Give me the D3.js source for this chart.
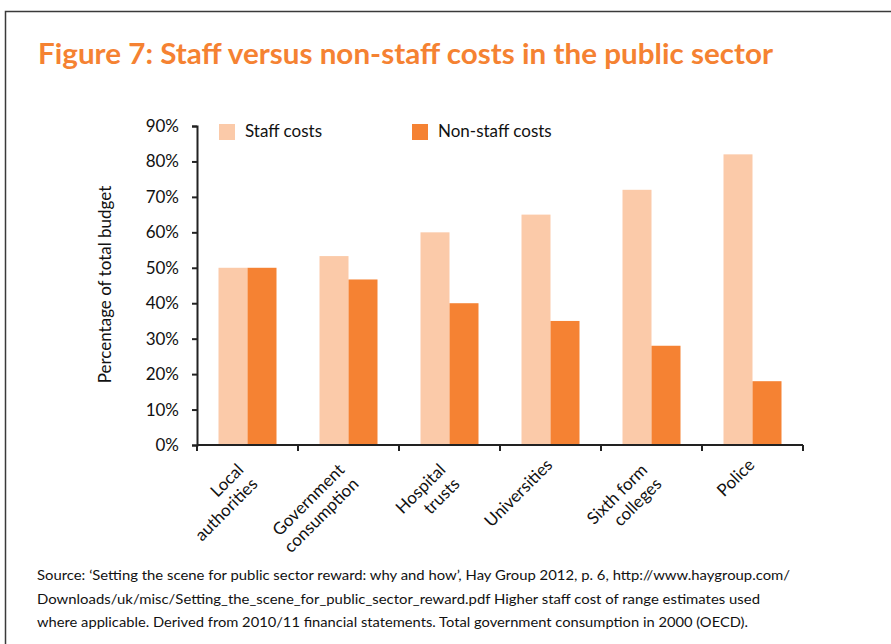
<!DOCTYPE html>
<html>
<head>
<meta charset="utf-8">
<script src="https://cdn.jsdelivr.net/npm/d3@7"></script>
<style>
  body { margin: 0; background: #fff; }
  svg { display: block; font-family: Lato, "Open Sans", sans-serif; }
</style>
</head>
<body>
<svg id="chart" width="891" height="644"></svg>
<script>
// data
const categories = [
  ["Local", "authorities"],
  ["Government", "consumption"],
  ["Hospital", "trusts"],
  ["Universities"],
  ["Sixth form", "colleges"],
  ["Police"]
];
const staffCosts = [0.50, 0.533, 0.60, 0.65, 0.72, 0.82];
const nonStaffCosts = [0.50, 0.467, 0.40, 0.35, 0.28, 0.18];
const seriesNames = ["Staff costs", "Non-staff costs"];
const yTicks = [0, 0.1, 0.2, 0.3, 0.4, 0.5, 0.6, 0.7, 0.8, 0.9];
const sourceLines = [
  "Source: \u2018Setting the scene for public sector reward: why and how\u2019, Hay Group 2012, p. 6, http://www.haygroup.com/",
  "Downloads/uk/misc/Setting_the_scene_for_public_sector_reward.pdf Higher staff cost of range estimates used",
  "where applicable. Derived from 2010/11 financial statements. Total government consumption in 2000 (OECD)."
];

const colors = ["#fbcaa9", "#f58233"];
const fs = 17;
const svg = d3.select("#chart");

// frame
svg.append("path")
  .attr("d", "M5.5,644 V11.5 H891")
  .attr("fill", "none").attr("stroke", "#3a3a3a").attr("stroke-width", 1.5);

// title
svg.append("text")
  .attr("x", 38).attr("y", 64)
  .attr("fill", "#f58232")
  .attr("font-size", 28).attr("font-weight", 700)
  .attr("textLength", 735).attr("lengthAdjust", "spacingAndGlyphs")
  .text("Figure 7: Staff versus non-staff costs in the public sector");

const x0 = 197, x1 = 803, yTop = 126, yBot = 445;
const keys = categories.map(c => c.join(" "));

const x = d3.scaleBand().domain(keys).range([x0, x1]);
const xs = d3.scaleBand().domain([0, 1]).range([21.5, x.bandwidth() - 21.5]);
const y = d3.scaleLinear().domain([0, 0.9]).range([yBot, yTop]);

const rows = keys.map((k, i) => ({ key: k, vals: [staffCosts[i], nonStaffCosts[i]] }));

// bars
const g = svg.append("g");
g.selectAll("g.cat").data(rows).join("g")
  .attr("transform", d => `translate(${x(d.key)},0)`)
  .selectAll("rect").data(d => d.vals.map((v, j) => ({ v, j }))).join("rect")
  .attr("x", d => xs(d.j))
  .attr("width", xs.bandwidth())
  .attr("y", d => y(d.v))
  .attr("height", d => y(0) - y(d.v))
  .attr("fill", d => colors[d.j]);

// y axis
const yAxis = svg.append("g")
  .attr("transform", `translate(${x0},0)`)
  .call(d3.axisLeft(y).tickValues(yTicks).tickFormat(d3.format(".0%")).tickSize(5).tickPadding(13));
yAxis.selectAll("text").attr("font-size", fs).attr("fill", "#111").attr("font-family", "Lato, sans-serif");
yAxis.select(".domain").attr("stroke", "#222").attr("stroke-width", 2);
yAxis.selectAll(".tick line").attr("stroke", "#222").attr("stroke-width", 2);

// x axis
const xAxis = svg.append("g")
  .attr("transform", `translate(0,${yBot})`);
xAxis.append("line")
  .attr("x1", x0).attr("x2", x1)
  .attr("stroke", "#222").attr("stroke-width", 2);
xAxis.selectAll("line.tick")
  .data(keys.map(k => x(k)).concat([x1])).join("line")
  .attr("class", "tick")
  .attr("x1", d => d).attr("x2", d => d)
  .attr("y1", 0).attr("y2", 6)
  .attr("stroke", "#222").attr("stroke-width", 2);

// category labels, rotated, lines right-aligned
const lineH = 20;
categories.forEach((lines, i) => {
  const one = lines.length === 1;
  const cx = x(keys[i]) + x.bandwidth() / 2 + (one ? 3 : -3);
  const lg = svg.append("g")
    .attr("transform", `translate(${cx},${yBot + (one ? 21 : 26)}) rotate(-45)`);
  lines.forEach((t, li) => lg.append("text")
    .attr("font-size", fs).attr("fill", "#111")
    .attr("text-anchor", "end")
    .attr("y", li * lineH)
    .text(t));
});

// y axis title
svg.append("text")
  .attr("transform", `translate(111,${(yTop + yBot) / 2 - 1}) rotate(-90)`)
  .attr("text-anchor", "middle")
  .attr("font-size", fs).attr("fill", "#111")
  .text("Percentage of total budget");

// legend
const legendX = [219, 412];
seriesNames.forEach((name, i) => {
  svg.append("rect")
    .attr("x", legendX[i]).attr("y", 124)
    .attr("width", 16).attr("height", 16)
    .attr("fill", colors[i]);
  svg.append("text")
    .attr("x", legendX[i] + 26).attr("y", 137)
    .attr("font-size", fs).attr("fill", "#111")
    .text(name);
});

// source note
const srcWidths = [753, 723, 711];
sourceLines.forEach((t, i) => {
  svg.append("text")
    .attr("x", 37).attr("y", 580 + i * 23.5)
    .attr("font-size", 14).attr("fill", "#111")
    .attr("textLength", srcWidths[i]).attr("lengthAdjust", "spacingAndGlyphs")
    .text(t);
});
</script>
</body>
</html>
